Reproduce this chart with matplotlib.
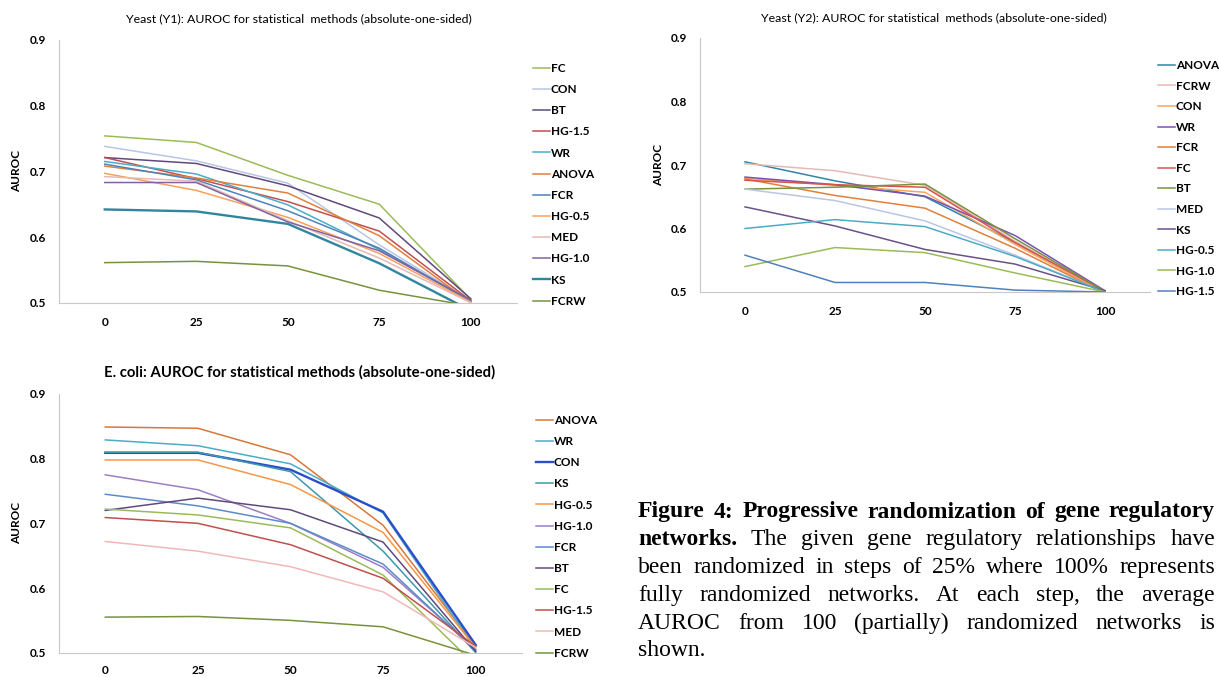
import matplotlib
matplotlib.use("Agg")
import matplotlib.pyplot as plt

W, H = 1219, 677

steps = ["0", "25", "50", "75", "100"]
yticks = [0.5, 0.6, 0.7, 0.8, 0.9]

# Yeast (Y1)
y1_names = ["FC", "CON", "BT", "HG-1.5", "WR", "ANOVA", "FCR", "HG-0.5", "MED", "HG-1.0", "KS", "FCRW"]
y1_values = [
    [0.754, 0.744, 0.694, 0.650, 0.505],
    [0.738, 0.716, 0.682, 0.588, 0.503],
    [0.721, 0.712, 0.678, 0.629, 0.506],
    [0.721, 0.689, 0.654, 0.609, 0.503],
    [0.715, 0.696, 0.649, 0.581, 0.502],
    [0.708, 0.690, 0.667, 0.602, 0.500],
    [0.711, 0.687, 0.640, 0.583, 0.502],
    [0.697, 0.671, 0.630, 0.575, 0.501],
    [0.692, 0.685, 0.625, 0.568, 0.500],
    [0.683, 0.683, 0.623, 0.579, 0.504],
    [0.642, 0.639, 0.620, 0.560, 0.488],
    [0.561, 0.563, 0.556, 0.519, 0.495],
]
y1_colors = ["#9BBB59", "#B9C6E6", "#604A7B", "#C0504D", "#4BACC6", "#E0803F",
             "#4F81BD", "#F9A05C", "#E6B9B8", "#8064A2", "#31859C", "#77933C"]

# Yeast (Y2)
y2_names = ["ANOVA", "FCRW", "CON", "WR", "FCR", "FC", "BT", "MED", "KS", "HG-0.5", "HG-1.0", "HG-1.5"]
y2_values = [
    [0.705, 0.675, 0.650, 0.578, 0.501],
    [0.702, 0.691, 0.668, 0.580, 0.500],
    [0.679, 0.668, 0.657, 0.575, 0.498],
    [0.681, 0.669, 0.651, 0.589, 0.502],
    [0.678, 0.652, 0.632, 0.569, 0.498],
    [0.676, 0.669, 0.665, 0.578, 0.501],
    [0.662, 0.665, 0.670, 0.584, 0.501],
    [0.662, 0.644, 0.612, 0.558, 0.500],
    [0.634, 0.604, 0.567, 0.544, 0.502],
    [0.600, 0.614, 0.603, 0.556, 0.500],
    [0.540, 0.570, 0.562, 0.530, 0.500],
    [0.558, 0.515, 0.515, 0.503, 0.500],
]
y2_colors = ["#2E86A6", "#E6B9B8", "#FAA55A", "#7A52B3", "#E0803F", "#D9534F",
             "#77933C", "#B9C6E6", "#6A5187", "#4BACC6", "#9BBB59", "#4F81BD"]

# E. coli
ec_names = ["ANOVA", "WR", "CON", "KS", "HG-0.5", "HG-1.0", "FCR", "BT", "FC", "HG-1.5", "MED", "FCRW"]
ec_values = [
    [0.849, 0.847, 0.806, 0.697, 0.510],
    [0.829, 0.820, 0.792, 0.716, 0.505],
    [0.809, 0.809, 0.783, 0.718, 0.512],
    [0.810, 0.810, 0.780, 0.657, 0.500],
    [0.798, 0.798, 0.760, 0.686, 0.508],
    [0.775, 0.752, 0.700, 0.632, 0.505],
    [0.745, 0.727, 0.700, 0.637, 0.503],
    [0.720, 0.739, 0.721, 0.671, 0.502],
    [0.722, 0.713, 0.693, 0.620, 0.480],
    [0.709, 0.700, 0.667, 0.615, 0.510],
    [0.672, 0.657, 0.633, 0.594, 0.508],
    [0.555, 0.556, 0.550, 0.540, 0.496],
]
ec_colors = ["#D9763A", "#4BACC6", "#2A4FC8", "#3E97AE", "#F79646", "#9B7FC4",
             "#5B8BC9", "#604A7B", "#9BBB59", "#C0504D", "#F2B8B8", "#77933C"]

plt.rcParams['font.family'] = ['Lato', 'DejaVu Sans']

fig = plt.figure(figsize=(W / 100, H / 100), dpi=100)


def px_axes(left, top, right, bottom):
    return fig.add_axes([left / W, 1 - bottom / H, (right - left) / W, (bottom - top) / H])


def draw_panel(ax, names, values, colors, thick, leg_x, leg_y, spacing, xpad=10):
    for name, vals, col in zip(names, values, colors):
        lw = 1.7 if name == thick else 1.1
        ax.plot(range(len(steps)), vals, color=col, lw=lw, label=name)
    ax.set_xlim(-0.5, len(steps) - 0.5)
    ax.set_ylim(0.5, 0.9)
    ax.set_xticks(range(len(steps)))
    ax.set_xticklabels(steps)
    ax.set_yticks(yticks)
    ax.set_yticklabels([f"{v:.1f}" for v in yticks])
    ax.tick_params(length=0, labelsize=8.5)
    ax.tick_params(axis='x', pad=xpad)
    ax.tick_params(axis='y', pad=9.5)
    for lab in ax.get_xticklabels() + ax.get_yticklabels():
        lab.set_fontweight('bold')
    for s in ['top', 'right']:
        ax.spines[s].set_visible(False)
    ax.spines['left'].set_color('#C8C8C8')
    ax.spines['bottom'].set_color('#C8C8C8')
    ax.set_ylabel("AUROC", fontsize=8.5, fontweight='bold')
    ax.yaxis.set_label_coords(-0.08, 0.5)
    ax.legend(loc='upper left', bbox_to_anchor=(leg_x / W, 1 - leg_y / H),
              bbox_transform=fig.transFigure, frameon=False,
              handlelength=1.4, handletextpad=0.12, labelspacing=spacing,
              borderpad=0, borderaxespad=0, prop={'weight': 'bold', 'size': 8.5})


ax1 = px_axes(59, 40, 516.5, 302.7)
draw_panel(ax1, y1_names, y1_values, y1_colors, "KS", 533, 63, 0.86)
fig.text(299 / W, 1 - 19 / H, "Yeast (Y1): AUROC for statistical  methods (absolute-one-sided)",
         ha='center', va='center', fontsize=8.9)

ax2 = px_axes(700, 38, 1150, 292)
draw_panel(ax2, y2_names, y2_values, y2_colors, None, 1158, 60, 0.81)
fig.text(934 / W, 1 - 18 / H, "Yeast (Y2): AUROC for statistical  methods (absolute-one-sided)",
         ha='center', va='center', fontsize=8.9)

ax3 = px_axes(59, 394, 522, 652.7)
draw_panel(ax3, ec_names, ec_values, ec_colors, "CON", 536, 415, 0.86, xpad=8.5)
fig.text(300 / W, 1 - 372 / H, "E. coli: AUROC for statistical methods (absolute-one-sided)",
         ha='center', va='center', fontsize=10.7, fontweight='bold')

# justified caption
caption_lines = [
    [("Figure 4: Progressive randomization of gene regulatory", True)],
    [("networks.", True), ("The given gene regulatory relationships have", False)],
    [("been randomized in steps of 25% where 100% represents", False)],
    [("fully randomized networks. At each step, the average", False)],
    [("AUROC from 100 (partially) randomized networks is", False)],
    [("shown.", False)],
]
cap_left, cap_right = 638, 1215
cap_y0, cap_dy = 512, 27.8
renderer = fig.canvas.get_renderer()
for i, parts in enumerate(caption_lines):
    words = []
    for txt, bold in parts:
        words += [(w, bold) for w in txt.split()]
    y = 1 - (cap_y0 + i * cap_dy) / H
    items = []
    total = 0
    for w, bold in words:
        t = fig.text(0, y, w, fontsize=17, family='Liberation Serif',
                     fontweight='bold' if bold else 'normal', va='center', ha='left')
        wpx = t.get_window_extent(renderer).width
        items.append((t, wpx))
        total += wpx
    last = i == len(caption_lines) - 1
    if last or len(items) == 1:
        gap = 5.5
    else:
        gap = (cap_right - cap_left - total) / (len(items) - 1)
    x = cap_left
    for t, wpx in items:
        t.set_x(x / W)
        x += wpx + gap

fig.savefig("out.png", dpi=100)
